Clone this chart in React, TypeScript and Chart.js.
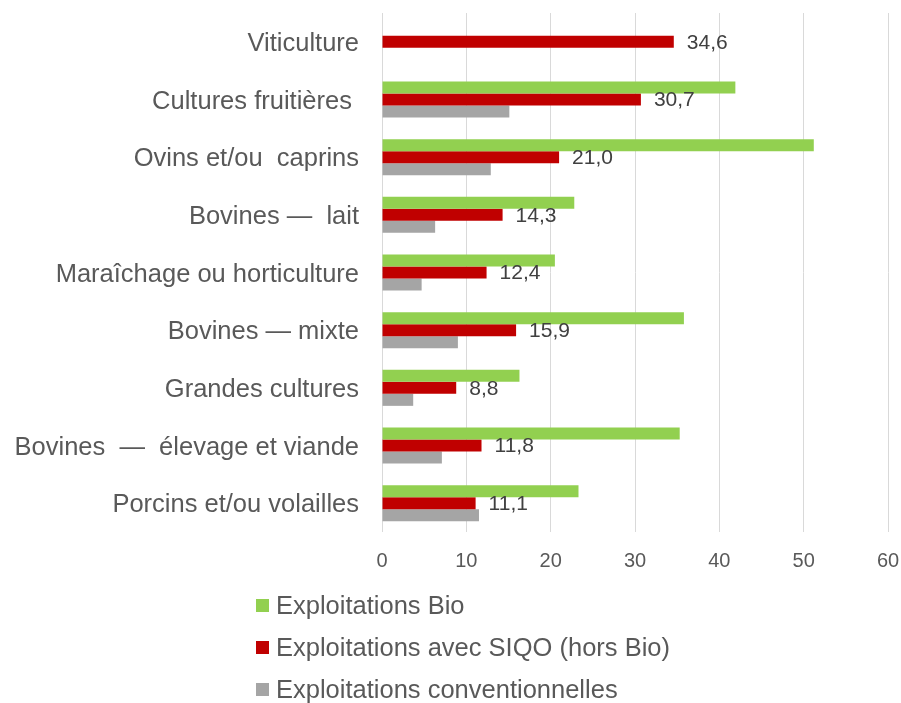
import React, { useEffect, useRef } from "react";
import { Chart, registerables } from "chart.js";

Chart.register(...registerables);

const categories = [
  "Viticulture",
  "Cultures fruitières ",
  "Ovins et/ou  caprins",
  "Bovines —  lait",
  "Maraîchage ou horticulture",
  "Bovines — mixte",
  "Grandes cultures",
  "Bovines  —  élevage et viande",
  "Porcins et/ou volailles",
];

const seriesNames = [
  "Exploitations Bio",
  "Exploitations avec SIQO (hors Bio)",
  "Exploitations conventionnelles",
];

const bio = [null, 41.9, 51.2, 22.8, 20.5, 35.8, 16.3, 35.3, 23.3];
const siqo = [34.6, 30.7, 21.0, 14.3, 12.4, 15.9, 8.8, 11.8, 11.1];
const conv = [null, 15.1, 12.9, 6.3, 4.7, 9.0, 3.7, 7.1, 11.5];

const xTicks = [0, 10, 20, 30, 40, 50, 60];

const colors = ["#92D050", "#C00000", "#A5A5A5"];

const FONT = "'Liberation Sans', Arial, sans-serif";

const labelPlugin = {
  id: "siqoLabels",
  afterDatasetsDraw(chart: any) {
    const ctx = chart.ctx;
    const meta = chart.getDatasetMeta(1);
    ctx.save();
    ctx.font = `21px ${FONT}`;
    ctx.fillStyle = "#404040";
    ctx.textAlign = "left";
    ctx.textBaseline = "middle";
    meta.data.forEach((bar: any, i: number) => {
      const v = siqo[i];
      if (v == null) return;
      ctx.fillText(v.toFixed(1).replace(".", ","), bar.x + 13, bar.y + 1);
    });
    ctx.restore();
  },
};

export default function App() {
  const ref = useRef<HTMLCanvasElement | null>(null);

  useEffect(() => {
    if (!ref.current) return;
    const chart = new Chart(ref.current, {
      type: "bar",
      data: {
        labels: categories,
        datasets: [bio, siqo, conv].map((d, i) => ({
          label: seriesNames[i],
          data: d as any,
          backgroundColor: colors[i],
          borderWidth: 0,
          categoryPercentage: 0.625,
          barPercentage: 1,
        })),
      },
      options: {
        indexAxis: "y",
        animation: false,
        responsive: false,
        maintainAspectRatio: false,
        layout: { padding: { top: 13, right: 13, bottom: 121, left: 0 } },
        plugins: {
          legend: { display: false },
          tooltip: { enabled: false },
        },
        scales: {
          x: {
            min: 0,
            max: 60,
            afterBuildTicks: (scale: any) => {
              scale.ticks = xTicks.map((v) => ({ value: v }));
            },
            afterFit: (scale: any) => {
              scale.height = 50;
              scale.paddingLeft = 0;
              scale.paddingRight = 0;
            },
            grid: { color: "#D9D9D9", lineWidth: 1, drawTicks: false },
            border: { display: false },
            ticks: {
              padding: 17,
              color: "#595959",
              font: { family: FONT, size: 20 },
            },
          },
          y: {
            afterFit: (scale: any) => {
              scale.width = 382;
              scale.paddingTop = 0;
              scale.paddingBottom = 0;
            },
            grid: { display: false, drawTicks: false },
            border: { display: false },
            ticks: {
              padding: 23,
              labelOffset: 2,
              color: "#595959",
              font: { family: FONT, size: 25.5 },
            },
          },
        },
      },
      plugins: [labelPlugin],
    });
    return () => chart.destroy();
  }, []);

  return (
    <div style={{ position: "absolute", left: 0, top: 0, width: 901, height: 703, background: "#fff" }}>
      <canvas ref={ref} width={901} height={703} style={{ display: "block" }} />
      {seriesNames.map((n, i) => (
        <div
          key={n}
          style={{
            position: "absolute",
            left: 256,
            top: 605 + i * 42 - 15,
            height: 30,
            display: "flex",
            alignItems: "center",
            fontFamily: FONT,
            fontSize: 25.5,
            color: "#595959",
            whiteSpace: "nowrap",
          }}
        >
          <span style={{ display: "inline-block", width: 13, height: 13, background: colors[i], marginRight: 7 }} />
          <span>{n}</span>
        </div>
      ))}
    </div>
  );
}
